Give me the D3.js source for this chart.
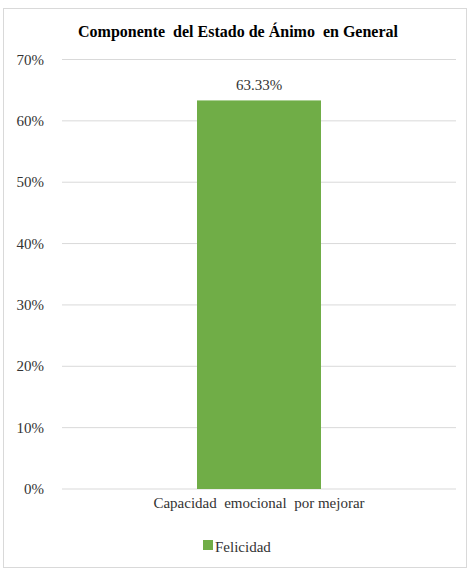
<!DOCTYPE html>
<html>
<head>
<meta charset="utf-8">
<script src="https://cdn.jsdelivr.net/npm/d3@7"></script>
</head>
<body style="margin:0">
<div id="chart"></div>
<script>
const categories = ['Capacidad  emocional  por mejorar']
const seriesName = 'Felicidad'
const values = [0.6333]
const yTicks = [0, 0.1, 0.2, 0.3, 0.4, 0.5, 0.6, 0.7]

const width = 469
const height = 576
const serif = 'Liberation Serif'

const svg = d3.select('#chart').append('svg')
  .attr('width', width)
  .attr('height', height)

// chart area border
svg.append('rect')
  .attr('x', 3.5).attr('y', 8.5)
  .attr('width', 463).attr('height', 559)
  .attr('fill', 'none')
  .attr('stroke', '#d9d9d9')

const plot = { left: 62, right: 456, top: 59.5, bottom: 489 }

const x = d3.scaleBand()
  .domain(categories)
  .range([plot.left, plot.right])
  .paddingInner(0.685)
  .paddingOuter(0.343)

const y = d3.scaleLinear()
  .domain([0, 0.7])
  .range([plot.bottom, plot.top])

// gridlines
svg.append('g')
  .selectAll('line')
  .data(yTicks)
  .enter()
  .append('line')
  .attr('x1', plot.left).attr('x2', plot.right)
  .attr('y1', d => y(d)).attr('y2', d => y(d))
  .attr('stroke', '#d9d9d9')

// bars
svg.append('g')
  .selectAll('rect')
  .data(values)
  .enter()
  .append('rect')
  .attr('x', (d, i) => x(categories[i]))
  .attr('width', x.bandwidth())
  .attr('y', d => y(d))
  .attr('height', d => y(0) - y(d))
  .attr('fill', '#70ad47')

// y axis labels
svg.append('g')
  .selectAll('text')
  .data(yTicks)
  .enter()
  .append('text')
  .attr('x', 44)
  .attr('y', d => y(d) + 5)
  .attr('text-anchor', 'end')
  .attr('font-family', serif)
  .attr('font-size', 15)
  .attr('fill', '#333')
  .text(d => d3.format('.0%')(d))

// value labels
svg.append('g')
  .selectAll('text')
  .data(values)
  .enter()
  .append('text')
  .attr('x', (d, i) => x(categories[i]) + x.bandwidth() / 2)
  .attr('y', d => y(d) - 10)
  .attr('text-anchor', 'middle')
  .attr('font-family', serif)
  .attr('font-size', 15)
  .attr('fill', '#333')
  .text(d => d3.format('.2%')(d))

// category labels
svg.append('g')
  .selectAll('text')
  .data(categories)
  .enter()
  .append('text')
  .attr('x', d => x(d) + x.bandwidth() / 2)
  .attr('y', plot.bottom + 19)
  .attr('text-anchor', 'middle')
  .attr('font-family', serif)
  .attr('font-size', 15)
  .attr('fill', '#333')
  .attr('xml:space', 'preserve')
  .text(d => d)

// title
svg.append('text')
  .attr('x', 238)
  .attr('y', 37)
  .attr('text-anchor', 'middle')
  .attr('font-family', serif)
  .attr('font-size', 16)
  .attr('font-weight', 'bold')
  .attr('fill', '#000')
  .attr('xml:space', 'preserve')
  .text('Componente  del Estado de Ánimo  en General')

// legend
svg.append('rect')
  .attr('x', 203).attr('y', 540)
  .attr('width', 10).attr('height', 10)
  .attr('fill', '#70ad47')
svg.append('text')
  .attr('x', 215)
  .attr('y', 552)
  .attr('font-family', serif)
  .attr('font-size', 15)
  .attr('fill', '#333')
  .text(seriesName)
</script>
</body>
</html>
